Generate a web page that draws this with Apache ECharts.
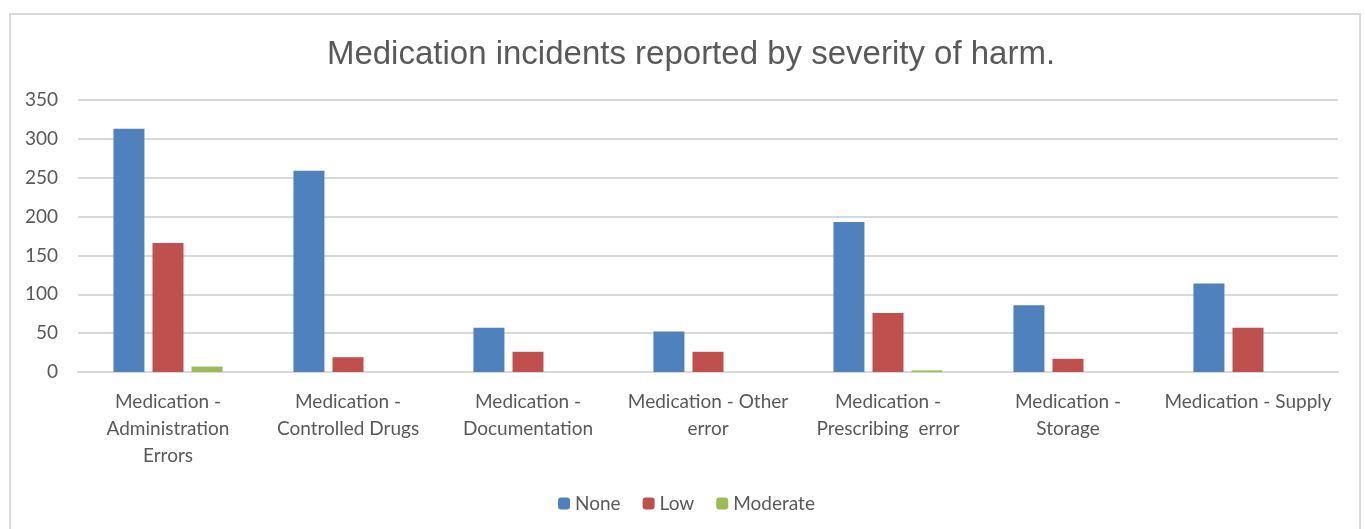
<!DOCTYPE html>
<html>
<head>
<meta charset="utf-8">
<script src="https://cdn.jsdelivr.net/npm/echarts@6/dist/echarts.min.js"></script>
<style>
  html, body { margin: 0; padding: 0; background: #fff; }
  #frame { position: absolute; left: 9px; top: 13px; width: 1352px; height: 530px; border: 2px solid #d9d9d9; box-sizing: border-box; }
  #main { position: absolute; left: 0; top: 0; width: 1365px; height: 529px; }
</style>
</head>
<body>
<div id="frame"></div>
<div id="main"></div>
<script>
// categories (line breaks as shown under the axis)
const categories = [
  "Medication -\nAdministration\nErrors",
  "Medication -\nControlled Drugs",
  "Medication -\nDocumentation",
  "Medication - Other\nerror",
  "Medication -\nPrescribing  error",
  "Medication -\nStorage",
  "Medication - Supply"
]

const noneValues = [313, 259, 57, 52, 193, 86, 114]
const lowValues = [166, 19, 26, 26, 76, 17, 57]
const moderateValues = [7, 0, 0, 0, 2, 0, 0]

const textColor = "#595959"
const labelFont = "Lato, 'Open Sans', sans-serif"

const myChart = echarts.init(document.getElementById("main"))

const option = {
  animation: false,
  title: {
    text: "Medication incidents reported by severity of harm.",
    left: 686,
    top: 33,
    textAlign: "center",
    textStyle: {
      color: textColor,
      fontSize: 33,
      fontWeight: "normal",
      fontFamily: "'Liberation Sans', Arial, sans-serif"
    }
  },
  legend: {
    data: ["None", "Low", "Moderate"],
    left: 553,
    top: 489,
    itemWidth: 12,
    itemHeight: 12,
    itemGap: 22,
    textStyle: { color: textColor, fontSize: 19, fontFamily: labelFont }
  },
  grid: {
    left: 78,
    right: 27,
    top: 100,
    bottom: 157,
    containLabel: false
  },
  xAxis: {
    type: "category",
    data: categories,
    axisTick: { show: false },
    axisLine: { lineStyle: { color: "#d9d9d9", width: 2 } },
    axisLabel: {
      color: textColor,
      fontSize: 19,
      fontFamily: labelFont,
      lineHeight: 27,
      margin: 16,
      interval: 0
    }
  },
  yAxis: {
    type: "value",
    min: 0,
    max: 350,
    interval: 50,
    axisLine: { show: false },
    axisTick: { show: false },
    splitLine: { lineStyle: { color: "#d9d9d9", width: 2 } },
    axisLabel: {
      color: textColor,
      fontSize: 19,
      fontFamily: labelFont,
      margin: 20
    }
  },
  series: [
    {
      name: "None",
      type: "bar",
      data: noneValues,
      barWidth: 31,
      barGap: "26%",
      itemStyle: { color: "#4f81bd" }
    },
    {
      name: "Low",
      type: "bar",
      data: lowValues,
      barWidth: 31,
      barGap: "26%",
      itemStyle: { color: "#c0504d" }
    },
    {
      name: "Moderate",
      type: "bar",
      data: moderateValues,
      barWidth: 31,
      barGap: "26%",
      itemStyle: { color: "#9bbb59" }
    }
  ]
}

myChart.setOption(option)
</script>
</body>
</html>
